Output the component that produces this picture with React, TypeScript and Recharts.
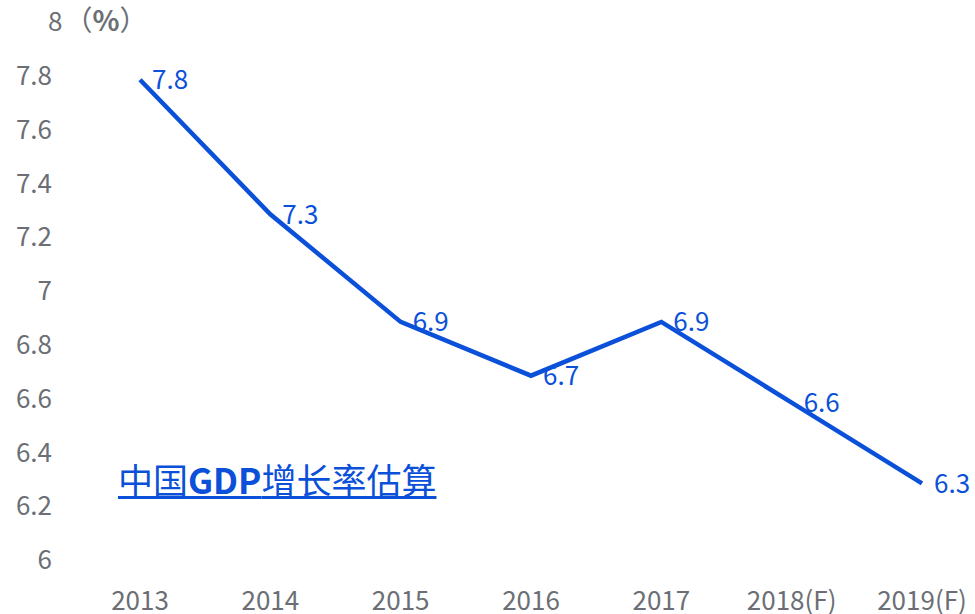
import { LineChart, Line, XAxis, YAxis, LabelList } from 'recharts'

const YEARS = ['2013', '2014', '2015', '2016', '2017', '2018(F)', '2019(F)']
const GDP_GROWTH = [7.8, 7.3, 6.9, 6.7, 6.9, 6.6, 6.3]
const Y_TICKS = [6, 6.2, 6.4, 6.6, 6.8, 7, 7.2, 7.4, 7.6, 7.8, 8]

const BLUE = '#0b50d8'
const GREY = '#6b6f75'
const FONT = '"Noto Sans CJK SC", "Noto Sans", sans-serif'

const data = YEARS.map((year, i) => ({ year, growth: GDP_GROWTH[i] }))

function YTick(props: any) {
  const { x, y, payload } = props
  const v = payload.value
  if (v === 8) {
    return (
      <text x={x - 4} y={y - 4} dy="0.355em" textAnchor="start" fill={GREY} fontSize={26} fontFamily={FONT}>
        <tspan>8</tspan>
        <tspan dx={2} fontSize={28}>（</tspan>
        <tspan fontWeight="bold" fontSize={28}>%</tspan>
        <tspan fontSize={28}>）</tspan>
      </text>
    )
  }
  return (
    <text x={x} y={y - 4} dy="0.355em" textAnchor="end" fill={GREY} fontSize={26} fontFamily={FONT}>
      {String(v)}
    </text>
  )
}

function XTick(props: any) {
  const { x, y, payload } = props
  return (
    <text x={x} y={y + 29} dy="0.355em" textAnchor="middle" fill={GREY} fontSize={26} fontFamily={FONT}>
      {payload.value}
    </text>
  )
}

export default function App() {
  return (
    <div style={{ position: 'absolute', left: 0, top: 0, width: 975, height: 614, background: '#fff' }}>
      <LineChart
        width={975}
        height={614}
        data={data}
        margin={{ top: 26, right: 23, bottom: 0, left: 0 }}
        style={{ fontFamily: FONT }}
      >
        <XAxis
          dataKey="year"
          axisLine={false}
          tickLine={false}
          height={50}
          padding={{ left: 60, right: 30 }}
          tick={<XTick />}
          interval={0}
        />
        <YAxis
          domain={[6, 8]}
          ticks={Y_TICKS}
          axisLine={false}
          tickLine={false}
          tickSize={0}
          tickMargin={28}
          width={80}
          tick={<YTick />}
          interval={0}
        />
        <Line
          type="linear"
          dataKey="growth"
          stroke={BLUE}
          strokeWidth={4.5}
          dot={false}
          activeDot={false}
          isAnimationActive={false}
        >
          <LabelList dataKey="growth" position="right" offset={12} fill={BLUE} fontSize={26} fontFamily={FONT} />
        </Line>
      </LineChart>
      <div
        style={{
          position: 'absolute',
          left: 118,
          top: 461,
          fontSize: 35,
          lineHeight: 1,
          color: BLUE,
          fontFamily: FONT,
          textDecoration: 'underline',
          whiteSpace: 'nowrap',
        }}
      >
        中国<b>GDP</b>增长率估算
      </div>
    </div>
  )
}
